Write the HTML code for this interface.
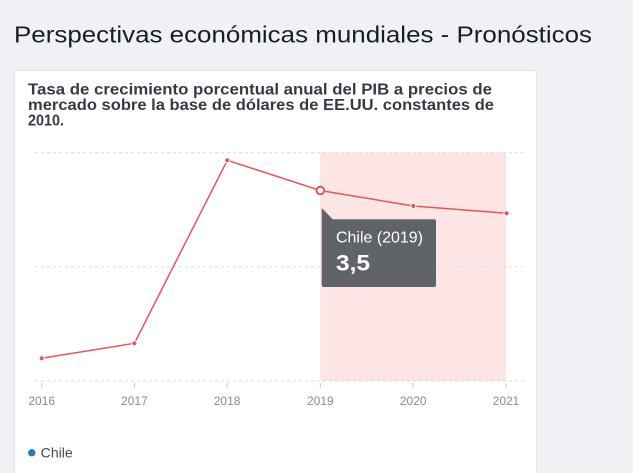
<!DOCTYPE html>
<html>
<head>
<meta charset="utf-8">
<style>
  html, body { margin:0; padding:0; width:633px; height:473px; overflow:hidden; background:#f0f1f5; }
  svg { display:block; }
</style>
</head>
<body>
<svg width="633" height="473" viewBox="0 0 633 473" xmlns="http://www.w3.org/2000/svg">
  <rect x="0" y="0" width="633" height="473" fill="#f0f1f5"/>
  <!-- Page title -->
  <text x="14" y="42.5" font-family="'Liberation Sans', sans-serif" font-size="23.5" fill="#161c2a" textLength="578" lengthAdjust="spacingAndGlyphs">Perspectivas económicas mundiales - Pronósticos</text>

  <!-- Card -->
  <rect x="14.5" y="70.5" width="522" height="420" rx="2" fill="#ffffff" stroke="#e2e5ea" stroke-width="1"/>

  <!-- Subtitle -->
  <g font-family="'Liberation Sans', sans-serif" font-size="15.5" font-weight="bold" fill="#353b45">
    <text x="28" y="94.3" textLength="464" lengthAdjust="spacingAndGlyphs">Tasa de crecimiento porcentual anual del PIB a precios de</text>
    <text x="28" y="109.8" textLength="466" lengthAdjust="spacingAndGlyphs">mercado sobre la base de dólares de EE.UU. constantes de</text>
    <text x="28" y="125.5" textLength="36" lengthAdjust="spacingAndGlyphs">2010.</text>
  </g>

  <!-- Forecast band -->
  <rect x="320.3" y="152.5" width="185.7" height="228.5" fill="#fde4e5"/>

  <!-- Gridlines -->
  <g stroke="#e0e0e0" stroke-width="1.2" stroke-dasharray="3,3">
    <line x1="35" y1="152.7" x2="524" y2="152.7"/>
    <line x1="35" y1="266.7" x2="524" y2="266.7"/>
    <line x1="35" y1="381" x2="524" y2="381"/>
  </g>

  <!-- Ticks -->
  <g stroke="#c8c8c8" stroke-width="1">
    <line x1="41.7" y1="383" x2="41.7" y2="388"/>
    <line x1="134.4" y1="383" x2="134.4" y2="388"/>
    <line x1="227.1" y1="383" x2="227.1" y2="388"/>
    <line x1="320.3" y1="383" x2="320.3" y2="388"/>
    <line x1="413.2" y1="383" x2="413.2" y2="388"/>
    <line x1="506" y1="383" x2="506" y2="388"/>
  </g>

  <!-- X labels -->
  <g font-family="'Liberation Sans', sans-serif" font-size="12" fill="#8a8a8a" text-anchor="middle">
    <text x="41.7" y="405">2016</text>
    <text x="134.4" y="405">2017</text>
    <text x="227.1" y="405">2018</text>
    <text x="320.3" y="405">2019</text>
    <text x="413.2" y="405">2020</text>
    <text x="506" y="405">2021</text>
  </g>

  <!-- Series line -->
  <polyline points="41.7,358.3 134.4,343.3 227.3,160.3 320.3,190.5 413.3,206 506.5,213.3" fill="none" stroke="#e0585f" stroke-width="1.5" stroke-linejoin="round"/>
  <g fill="#e0585f" stroke="#ffffff" stroke-width="1">
    <circle cx="41.7" cy="358.3" r="2.6"/>
    <circle cx="134.4" cy="343.3" r="2.6"/>
    <circle cx="227.3" cy="160.3" r="2.6"/>
    <circle cx="413.3" cy="206" r="2.6"/>
    <circle cx="506.5" cy="213.3" r="2.6"/>
  </g>
  <circle cx="320.3" cy="190.5" r="3.8" fill="#ffffff" stroke="#e0585f" stroke-width="2"/>

  <!-- Tooltip -->
  <path d="M321.7,208 L332.7,219.3 L434,219.3 Q436,219.3 436,221.3 L436,285 Q436,287 434,287 L323.7,287 Q321.7,287 321.7,285 Z" fill="#606368"/>
  <text x="336" y="242.5" font-family="'Liberation Sans', sans-serif" font-size="16" fill="#ffffff" textLength="87" lengthAdjust="spacingAndGlyphs">Chile (2019)</text>
  <text x="336" y="270.5" font-family="'Liberation Sans', sans-serif" font-size="22" font-weight="bold" fill="#ffffff" textLength="34" lengthAdjust="spacingAndGlyphs">3,5</text>

  <!-- Legend -->
  <circle cx="31.8" cy="452.7" r="3.7" fill="#2a78b5"/>
  <text x="40.7" y="457.5" font-family="'Liberation Sans', sans-serif" font-size="14" fill="#444a52" textLength="32" lengthAdjust="spacingAndGlyphs">Chile</text>
</svg>
</body>
</html>
